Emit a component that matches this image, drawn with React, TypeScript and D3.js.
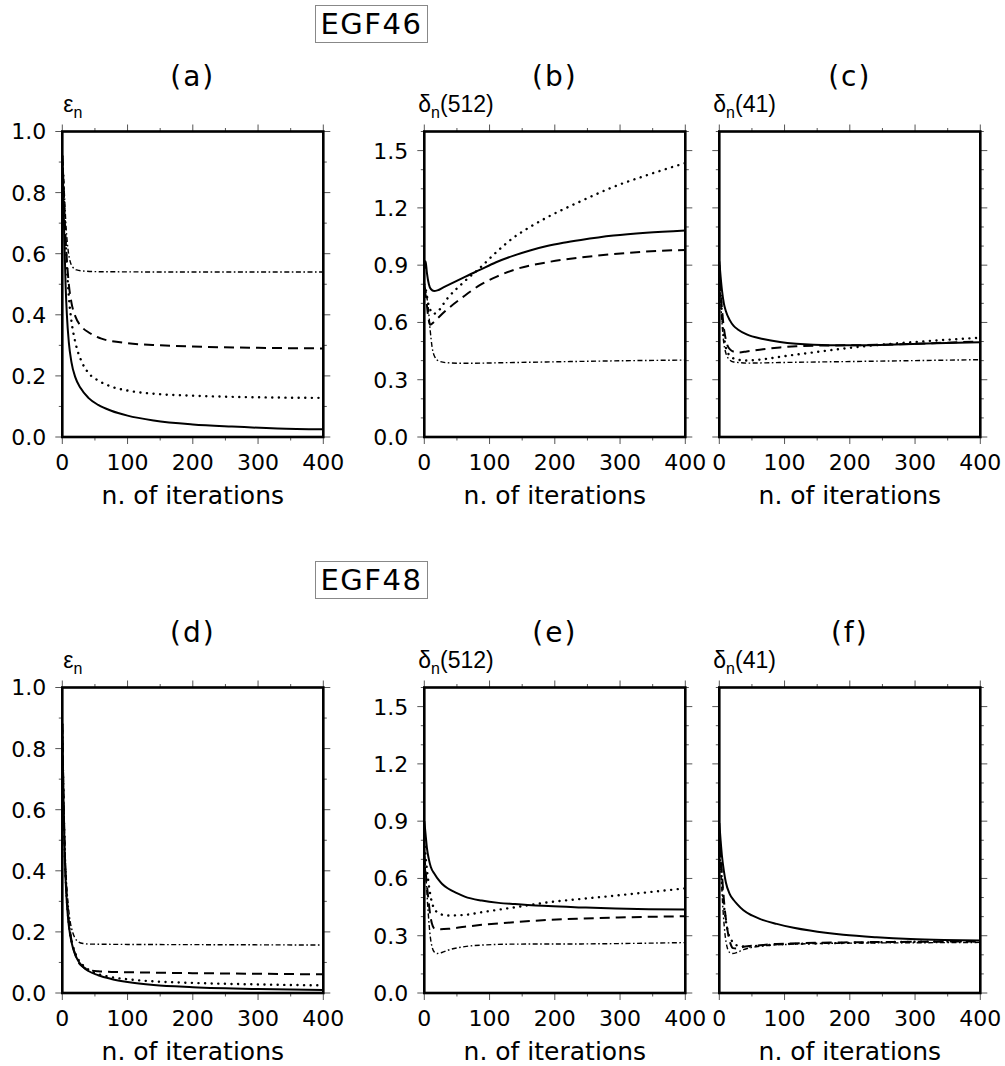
import React from "react";
import * as d3 from "d3";

const W = 1005;
const H = 1066;

// tick values
const iterTicks = [0, 100, 200, 300, 400];
const epsTicks = [0, 0.2, 0.4, 0.6, 0.8, 1.0];
const deltaTicks = [0, 0.3, 0.6, 0.9, 1.2, 1.5];

const groups = ["EGF46", "EGF48"];
const titles = ["(a)", "(b)", "(c)", "(d)", "(e)", "(f)"];
const yNames = [
  ["ε", ""],
  ["δ", "(512)"],
  ["δ", "(41)"],
];

// (a) epsilon_n, EGF46
const aSolid = [[0,0.92],[1,0.85],[2,0.76],[3,0.66],[5,0.5],[7,0.4],[10,0.31],[14,0.245],[20,0.195],[28,0.16],[40,0.128],[55,0.105],[75,0.086],[100,0.07],[140,0.054],[200,0.041],[260,0.034],[330,0.028],[400,0.025]];
const aDotted = [[0,0.92],[2,0.82],[4,0.7],[7,0.56],[10,0.46],[14,0.38],[20,0.31],[30,0.245],[40,0.21],[55,0.185],[75,0.165],[100,0.152],[150,0.14],[200,0.135],[300,0.13],[400,0.128]];
const aDashed = [[0,0.92],[2,0.82],[4,0.7],[7,0.58],[10,0.5],[14,0.44],[20,0.395],[30,0.36],[40,0.343],[60,0.322],[100,0.307],[150,0.3],[200,0.296],[300,0.292],[400,0.29]];
const aDashDot = [[0,0.92],[2,0.85],[4,0.76],[6,0.68],[9,0.61],[12,0.575],[16,0.556],[22,0.547],[35,0.543],[60,0.541],[200,0.54],[400,0.54]];

// (b) delta_n(512), EGF46
const bSolid = [[0,0.88],[2,0.92],[4,0.86],[7,0.8],[10,0.775],[15,0.765],[20,0.768],[30,0.785],[45,0.81],[60,0.835],[85,0.875],[110,0.915],[137,0.95],[162,0.977],[188,1.0],[213,1.017],[240,1.032],[290,1.055],[340,1.07],[400,1.082]];
const bDotted = [[0,0.8],[3,0.76],[6,0.7],[10,0.66],[14,0.645],[20,0.655],[34,0.72],[60,0.81],[85,0.885],[111,0.97],[137,1.045],[162,1.1],[188,1.15],[240,1.235],[290,1.31],[340,1.37],[400,1.435]];
const bDashed = [[0,0.78],[3,0.72],[6,0.63],[9,0.588],[14,0.6],[20,0.62],[34,0.665],[60,0.735],[85,0.795],[111,0.84],[137,0.875],[188,0.915],[240,0.94],[290,0.958],[340,0.971],[400,0.98]];
const bDashDot = [[0,0.8],[3,0.75],[6,0.68],[9,0.56],[12,0.47],[16,0.42],[22,0.398],[34,0.389],[60,0.386],[137,0.39],[240,0.396],[320,0.4],[400,0.403]];

// (c) delta_n(41), EGF46
const cSolid = [[0,0.92],[2,0.84],[4,0.77],[7,0.7],[10,0.66],[16,0.612],[22,0.582],[29,0.562],[42,0.537],[67,0.513],[93,0.497],[118,0.488],[144,0.483],[195,0.48],[246,0.482],[297,0.487],[348,0.492],[400,0.496]];
const cDotted = [[0,0.88],[3,0.7],[6,0.56],[10,0.47],[15,0.43],[21,0.413],[30,0.404],[42,0.401],[67,0.407],[93,0.42],[144,0.443],[195,0.465],[246,0.483],[297,0.497],[348,0.509],[400,0.52]];
const cDashed = [[0,0.9],[3,0.72],[6,0.6],[10,0.51],[16,0.46],[24,0.445],[30,0.443],[42,0.448],[67,0.46],[93,0.469],[118,0.475],[144,0.478],[195,0.48],[246,0.483],[297,0.488],[348,0.494],[400,0.5]];
const cDashDot = [[0,0.88],[3,0.66],[6,0.52],[10,0.44],[16,0.404],[22,0.393],[29,0.39],[42,0.387],[93,0.39],[195,0.395],[297,0.4],[400,0.405]];

// (d) epsilon_n, EGF48
const dSolid = [[0,0.88],[1,0.74],[2,0.62],[4,0.43],[6,0.33],[9,0.24],[12,0.19],[16,0.15],[20,0.125],[25,0.103],[32,0.085],[40,0.072],[55,0.058],[75,0.046],[100,0.036],[140,0.026],[200,0.019],[300,0.013],[400,0.01]];
const dDotted = [[0,0.88],[1,0.74],[2,0.62],[4,0.44],[6,0.34],[9,0.25],[12,0.195],[16,0.155],[20,0.13],[25,0.108],[32,0.09],[40,0.077],[55,0.062],[75,0.052],[100,0.045],[140,0.038],[200,0.033],[300,0.028],[400,0.025]];
const dDashed = [[0,0.88],[1,0.75],[2,0.63],[4,0.45],[6,0.35],[9,0.26],[12,0.2],[16,0.155],[20,0.125],[25,0.1],[32,0.085],[40,0.076],[55,0.071],[75,0.069],[100,0.068],[200,0.065],[300,0.063],[400,0.061]];
const dDashDot = [[0,0.88],[1,0.76],[2,0.65],[4,0.48],[6,0.38],[9,0.29],[12,0.235],[16,0.198],[20,0.178],[25,0.167],[32,0.162],[45,0.16],[100,0.159],[250,0.158],[400,0.157]];

// (e) delta_n(512), EGF48
const eSolid = [[0,0.9],[2,0.83],[4,0.76],[7,0.7],[10,0.66],[16,0.622],[22,0.592],[27,0.572],[37,0.546],[50,0.523],[62,0.505],[88,0.484],[114,0.472],[139,0.466],[190,0.455],[241,0.448],[293,0.442],[344,0.439],[400,0.437]];
const eDotted = [[0,0.8],[3,0.68],[6,0.59],[10,0.5],[14,0.45],[19,0.425],[24,0.414],[37,0.406],[62,0.409],[88,0.423],[139,0.449],[190,0.475],[241,0.493],[293,0.51],[344,0.528],[400,0.548]];
const eDashed = [[0,0.72],[3,0.6],[6,0.5],[9,0.41],[13,0.35],[16,0.337],[25,0.334],[37,0.336],[62,0.347],[88,0.357],[139,0.371],[190,0.383],[241,0.39],[293,0.395],[344,0.399],[400,0.402]];
const eDashDot = [[0,0.72],[3,0.58],[6,0.42],[9,0.3],[12,0.24],[16,0.212],[20,0.207],[27,0.212],[37,0.225],[62,0.243],[88,0.251],[139,0.256],[241,0.257],[344,0.261],[400,0.264]];

// (f) delta_n(41), EGF48
const fSolid = [[0,0.89],[2,0.8],[4,0.72],[7,0.64],[10,0.58],[16,0.518],[22,0.487],[27,0.467],[37,0.433],[50,0.406],[62,0.388],[88,0.362],[114,0.342],[139,0.327],[190,0.305],[241,0.292],[293,0.283],[344,0.278],[400,0.275]];
const fDotted = [[0,0.82],[3,0.64],[6,0.5],[10,0.38],[14,0.31],[18,0.28],[24,0.255],[32,0.245],[40,0.243],[62,0.248],[88,0.254],[190,0.262],[293,0.268],[400,0.271]];
const fDashed = [[0,0.85],[3,0.68],[6,0.53],[9,0.42],[13,0.32],[17,0.26],[21,0.235],[27,0.233],[37,0.242],[62,0.25],[88,0.257],[190,0.265],[293,0.268],[400,0.27]];
const fDashDot = [[0,0.8],[3,0.6],[6,0.42],[9,0.3],[12,0.24],[16,0.212],[20,0.207],[27,0.212],[37,0.227],[62,0.245],[88,0.252],[190,0.261],[293,0.263],[400,0.265]];

const panelSeries = [
  [aSolid, aDotted, aDashed, aDashDot],
  [bSolid, bDotted, bDashed, bDashDot],
  [cSolid, cDotted, cDashed, cDashDot],
  [dSolid, dDotted, dDashed, dDashDot],
  [eSolid, eDotted, eDashed, eDashDot],
  [fSolid, fDotted, fDashed, fDashDot],
];

// solid, dotted, dashed, dash-dot
const lineStyles = [
  { dash: undefined, width: 2, cap: "butt" },
  { dash: "0.1 6.5", width: 2.4, cap: "round" },
  { dash: "10 6", width: 2, cap: "butt" },
  { dash: "5 2.5 1.6 2.5", width: 1.4, cap: "butt" },
];

const colLeft = [62.3, 424.3, 719.3];
const rowTop = [131.5, 687.5];
const PW = 261;
const PH = 305.5;

const numFont = "'DejaVu Sans', sans-serif";
const labFont = "'Liberation Sans', Arial, sans-serif";

function Panel({ idx }) {
  const row = Math.floor(idx / 3);
  const col = idx % 3;
  const x0 = colLeft[col];
  const y0 = rowTop[row];
  const isEps = col === 0;
  const yMax = isEps ? 1 : 1.6;
  const yTicks = isEps ? epsTicks : deltaTicks;

  const xs = d3.scaleLinear().domain([0, 400]).range([x0, x0 + PW]);
  const ys = d3.scaleLinear().domain([0, yMax]).range([y0 + PH, y0]);
  const line = d3
    .line()
    .x((d) => xs(d[0]))
    .y((d) => ys(d[1]))
    .curve(d3.curveMonotoneX);

  const isMajorY = (v) => yTicks.some((t) => Math.abs(t - v) < 1e-6);
  const yMinor = d3.range(0, yMax + 1e-6, 0.1).filter((v) => !isMajorY(v));
  const xMinor = d3.range(50, 400, 100);
  const x1 = x0 + PW;
  const y1 = y0 + PH;
  const big = 7;
  const small = 3.5;
  const tickColor = "#555";

  const [sym, arg] = yNames[col];

  return (
    <g>
      {/* ticks, all outward */}
      <g stroke={tickColor} strokeWidth={1}>
        {yTicks.map((t) => (
          <g key={"y" + t}>
            <line x1={x0 - big} x2={x0} y1={ys(t)} y2={ys(t)} />
            <line x1={x1} x2={x1 + big} y1={ys(t)} y2={ys(t)} />
          </g>
        ))}
        {yMinor.map((t) => (
          <g key={"ym" + t}>
            <line x1={x0 - small} x2={x0} y1={ys(t)} y2={ys(t)} />
            <line x1={x1} x2={x1 + small} y1={ys(t)} y2={ys(t)} />
          </g>
        ))}
        {iterTicks.map((t) => (
          <g key={"x" + t}>
            <line x1={xs(t)} x2={xs(t)} y1={y1} y2={y1 + big} />
            <line x1={xs(t)} x2={xs(t)} y1={y0 - big} y2={y0} />
          </g>
        ))}
        {xMinor.map((t) => (
          <g key={"xm" + t}>
            <line x1={xs(t)} x2={xs(t)} y1={y1} y2={y1 + small} />
            <line x1={xs(t)} x2={xs(t)} y1={y0 - small} y2={y0} />
          </g>
        ))}
      </g>

      {/* curves */}
      {panelSeries[idx].map((s, i) => (
        <path
          key={i}
          d={line(s)}
          fill="none"
          stroke="#000"
          strokeWidth={lineStyles[i].width}
          strokeDasharray={lineStyles[i].dash}
          strokeLinecap={lineStyles[i].cap}
          strokeLinejoin="round"
        />
      ))}

      <rect x={x0} y={y0} width={PW} height={PH} fill="none" stroke="#000" strokeWidth={2.6} />

      {/* tick labels */}
      {col < 2 &&
        yTicks.map((t) => (
          <text key={"yl" + t} x={x0 - 16} y={ys(t)} dy="0.36em" textAnchor="end" fontFamily={numFont} fontSize={22}>
            {t.toFixed(1)}
          </text>
        ))}
      {iterTicks.map((t) => (
        <text key={"xl" + t} x={xs(t)} y={y1 + 33} textAnchor="middle" fontFamily={numFont} fontSize={22}>
          {t}
        </text>
      ))}
      <text x={(x0 + x1) / 2} y={y1 + 67} textAnchor="middle" fontFamily={numFont} fontSize={25}>
        n. of iterations
      </text>

      {/* panel letter */}
      <text x={(x0 + x1) / 2} y={y0 - 46} textAnchor="middle" fontFamily={numFont} fontSize={28} letterSpacing={2}>
        {titles[idx]}
      </text>

      {/* y label */}
      <text x={isEps ? x0 + 1 : x0 - 6} y={y0 - 20} fontFamily={labFont} fontSize={23}>
        {sym}
        <tspan fontSize={16} dy={6}>n</tspan>
        <tspan dy={-6}>{arg}</tspan>
      </text>
    </g>
  );
}

export default function App() {
  return (
    <svg
      width={W}
      height={H}
      viewBox={`0 0 ${W} ${H}`}
      style={{ position: "absolute", left: 0, top: 0, background: "#fff" }}
    >
      <rect width={W} height={H} fill="#fff" />
      {groups.map((g, r) => (
        <g key={g}>
          <rect x={315.5} y={rowTop[r] - 126} width={112} height={37} fill="none" stroke="#888" strokeWidth={1} />
          <text x={371.5} y={rowTop[r] - 97.5} textAnchor="middle" fontFamily={numFont} fontSize={29} letterSpacing={1.5}>
            {g}
          </text>
        </g>
      ))}
      {titles.map((t, i) => (
        <Panel key={t} idx={i} />
      ))}
    </svg>
  );
}
